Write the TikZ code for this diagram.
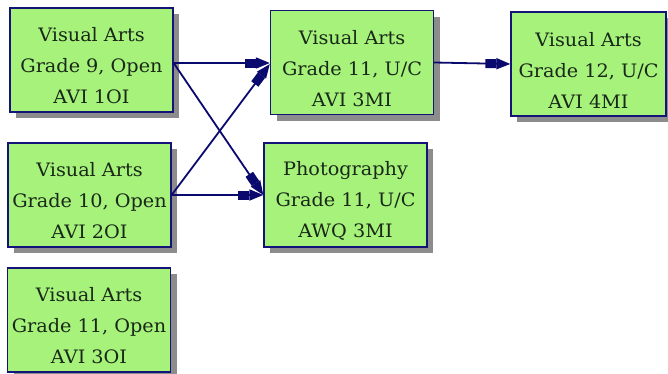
\documentclass[tikz,border=0pt]{standalone}
\usepackage{fontspec}
\setmainfont{DejaVu Serif}[FakeStretch=1.04]
\usetikzlibrary{arrows.meta,shadows}
\definecolor{boxfill}{RGB}{166,242,122}
\definecolor{boxline}{RGB}{20,20,120}
\definecolor{arrc}{RGB}{10,10,110}
\definecolor{shadc}{RGB}{140,140,140}
\definecolor{txtc}{RGB}{25,40,25}
\newcommand{\toprule}{\rule{0pt}{26pt}}
\begin{document}
\begin{tikzpicture}[x=1pt,y=-1pt,
  course/.style={draw=boxline, line width=1.3pt, fill=boxfill, text=txtc,
    align=center, inner sep=0pt, minimum width=163pt, minimum height=104pt,
    font=\fontsize{18.5}{31}\selectfont,
    general shadow={shadow xshift=6pt, shadow yshift=-6pt, fill=shadc}},
  arr/.style={draw=arrc, line width=1.8pt,
    -{Rectangle[length=11pt,width=9pt]Triangle[length=14pt,width=11pt]}}]
\useasboundingbox (0,0) rectangle (668,373);
\node[course] (A) at (91.5,60) {\toprule Visual Arts\\Grade 9, Open\\AVI 1OI};
\node[course] (B) at (89.5,195) {\toprule Visual Arts\\Grade 10, Open\\AVI 2OI};
\node[course] (C) at (89,320) {\toprule Visual Arts\\Grade 11, Open\\AVI 3OI};
\node[course] (D) at (352,62.5) {\toprule Visual Arts\\Grade 11, U/C\\AVI 3MI};
\node[course] (E) at (345.5,195) {\toprule Photography\\Grade 11, U/C\\AWQ 3MI};
\node[course, minimum width=155pt] (F) at (588.5,64) {\toprule Visual Arts\\Grade 12, U/C\\AVI 4MI};
\coordinate (a1) at ([yshift=-3pt]A.east);
\coordinate (d1) at ([yshift=-0.5pt]D.west);
\coordinate (d2) at ([yshift=-1.5pt]D.west);
\draw[arr] (a1) -- (d1);
\draw[arr] (a1) -- (E.west);
\draw[arr] (B.east) -- (E.west);
\draw[arr] (B.east) -- (d2);
\draw[arr] (D.east) -- (F.west);
\end{tikzpicture}
\end{document}
